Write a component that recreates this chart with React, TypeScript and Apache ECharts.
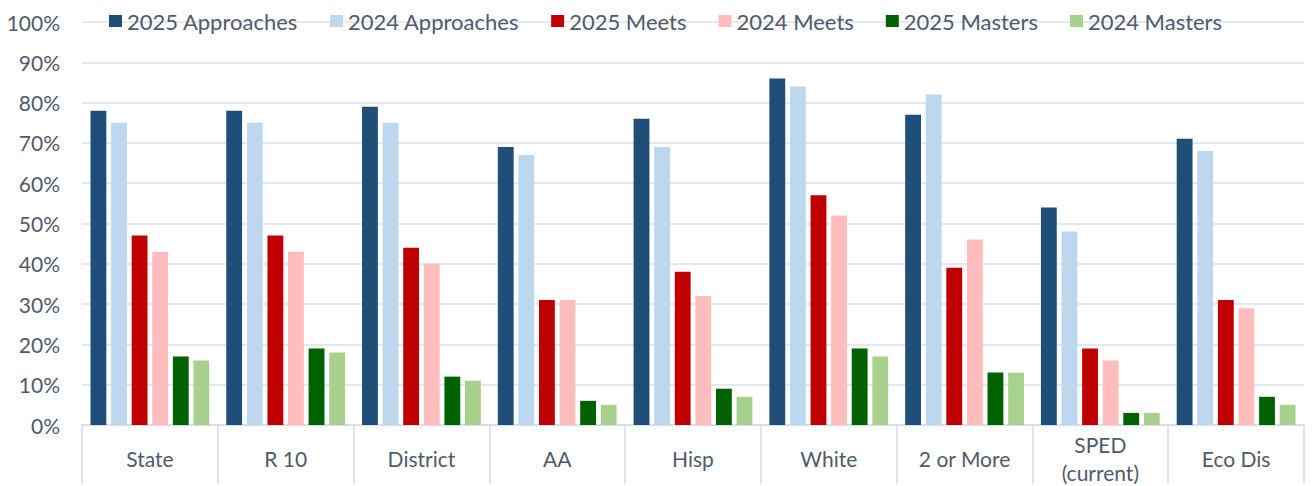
import React, { useEffect, useRef } from "react";
import * as echarts from "echarts";

const categories = ["State", "R 10", "District", "AA", "Hisp", "White", "2 or More", "SPED\n(current)", "Eco Dis"];
const seriesNames = ["2025 Approaches", "2024 Approaches", "2025 Meets", "2024 Meets", "2025 Masters", "2024 Masters"];
const approaches2025 = [78, 78, 79, 69, 76, 86, 77, 54, 71];
const approaches2024 = [75, 75, 75, 67, 69, 84, 82, 48, 68];
const meets2025 = [47, 47, 44, 31, 38, 57, 39, 19, 31];
const meets2024 = [43, 43, 40, 31, 32, 52, 46, 16, 29];
const masters2025 = [17, 19, 12, 6, 9, 19, 13, 3, 7];
const masters2024 = [16, 18, 11, 5, 7, 17, 13, 3, 5];
const colors = ["#1F4E79", "#BDD7EE", "#C00000", "#FFBDBD", "#006100", "#A9D18E"];

const TEXT = "#505a6b";
const FONT = "Lato";

export default function App() {
  const ref = useRef<HTMLDivElement>(null);
  useEffect(() => {
    if (!ref.current) return;
    const chart = echarts.init(ref.current, undefined, { renderer: "svg" });
    const data = [approaches2025, approaches2024, meets2025, meets2024, masters2025, masters2024];
    chart.setOption({
      animation: false,
      textStyle: { fontFamily: FONT },
      legend: {
        left: 104,
        top: 5,
        itemWidth: 13,
        itemHeight: 12,
        itemGap: 32,
        icon: "rect",
        textStyle: { color: TEXT, fontSize: 22, fontFamily: FONT, lineHeight: 22 },
        data: seriesNames,
      },
      grid: { left: 82, right: 9, top: 22, bottom: 59, containLabel: false },
      xAxis: {
        type: "category",
        data: categories,
        axisLine: { show: true, lineStyle: { color: "#D6DCE4", width: 1.5 } },
        axisTick: { show: true, length: 59, interval: 0, lineStyle: { color: "#D6DCE4", width: 1.5 } },
        axisLabel: {
          interval: 0,
          color: TEXT,
          fontSize: 21,
          fontFamily: FONT,
          margin: 33,
          verticalAlign: "middle",
          lineHeight: 28,
        },
      },
      yAxis: {
        type: "value",
        min: 0,
        max: 100,
        interval: 10,
        axisLine: { show: false },
        axisTick: { show: false },
        axisLabel: { formatter: "{value}%", color: TEXT, fontSize: 21, fontFamily: FONT, margin: 22 },
        splitLine: { lineStyle: { color: "#DCE1EA", width: 1.5 } },
      },
      series: seriesNames.map((name, i) => ({
        name,
        type: "bar",
        data: data[i],
        itemStyle: { color: colors[i] },
        barGap: "30%",
        barCategoryGap: "12.5%",
      })),
    });
    return () => chart.dispose();
  }, []);
  return <div ref={ref} style={{ width: 1313, height: 486, position: "absolute", left: 0, top: 0 }} />;
}
